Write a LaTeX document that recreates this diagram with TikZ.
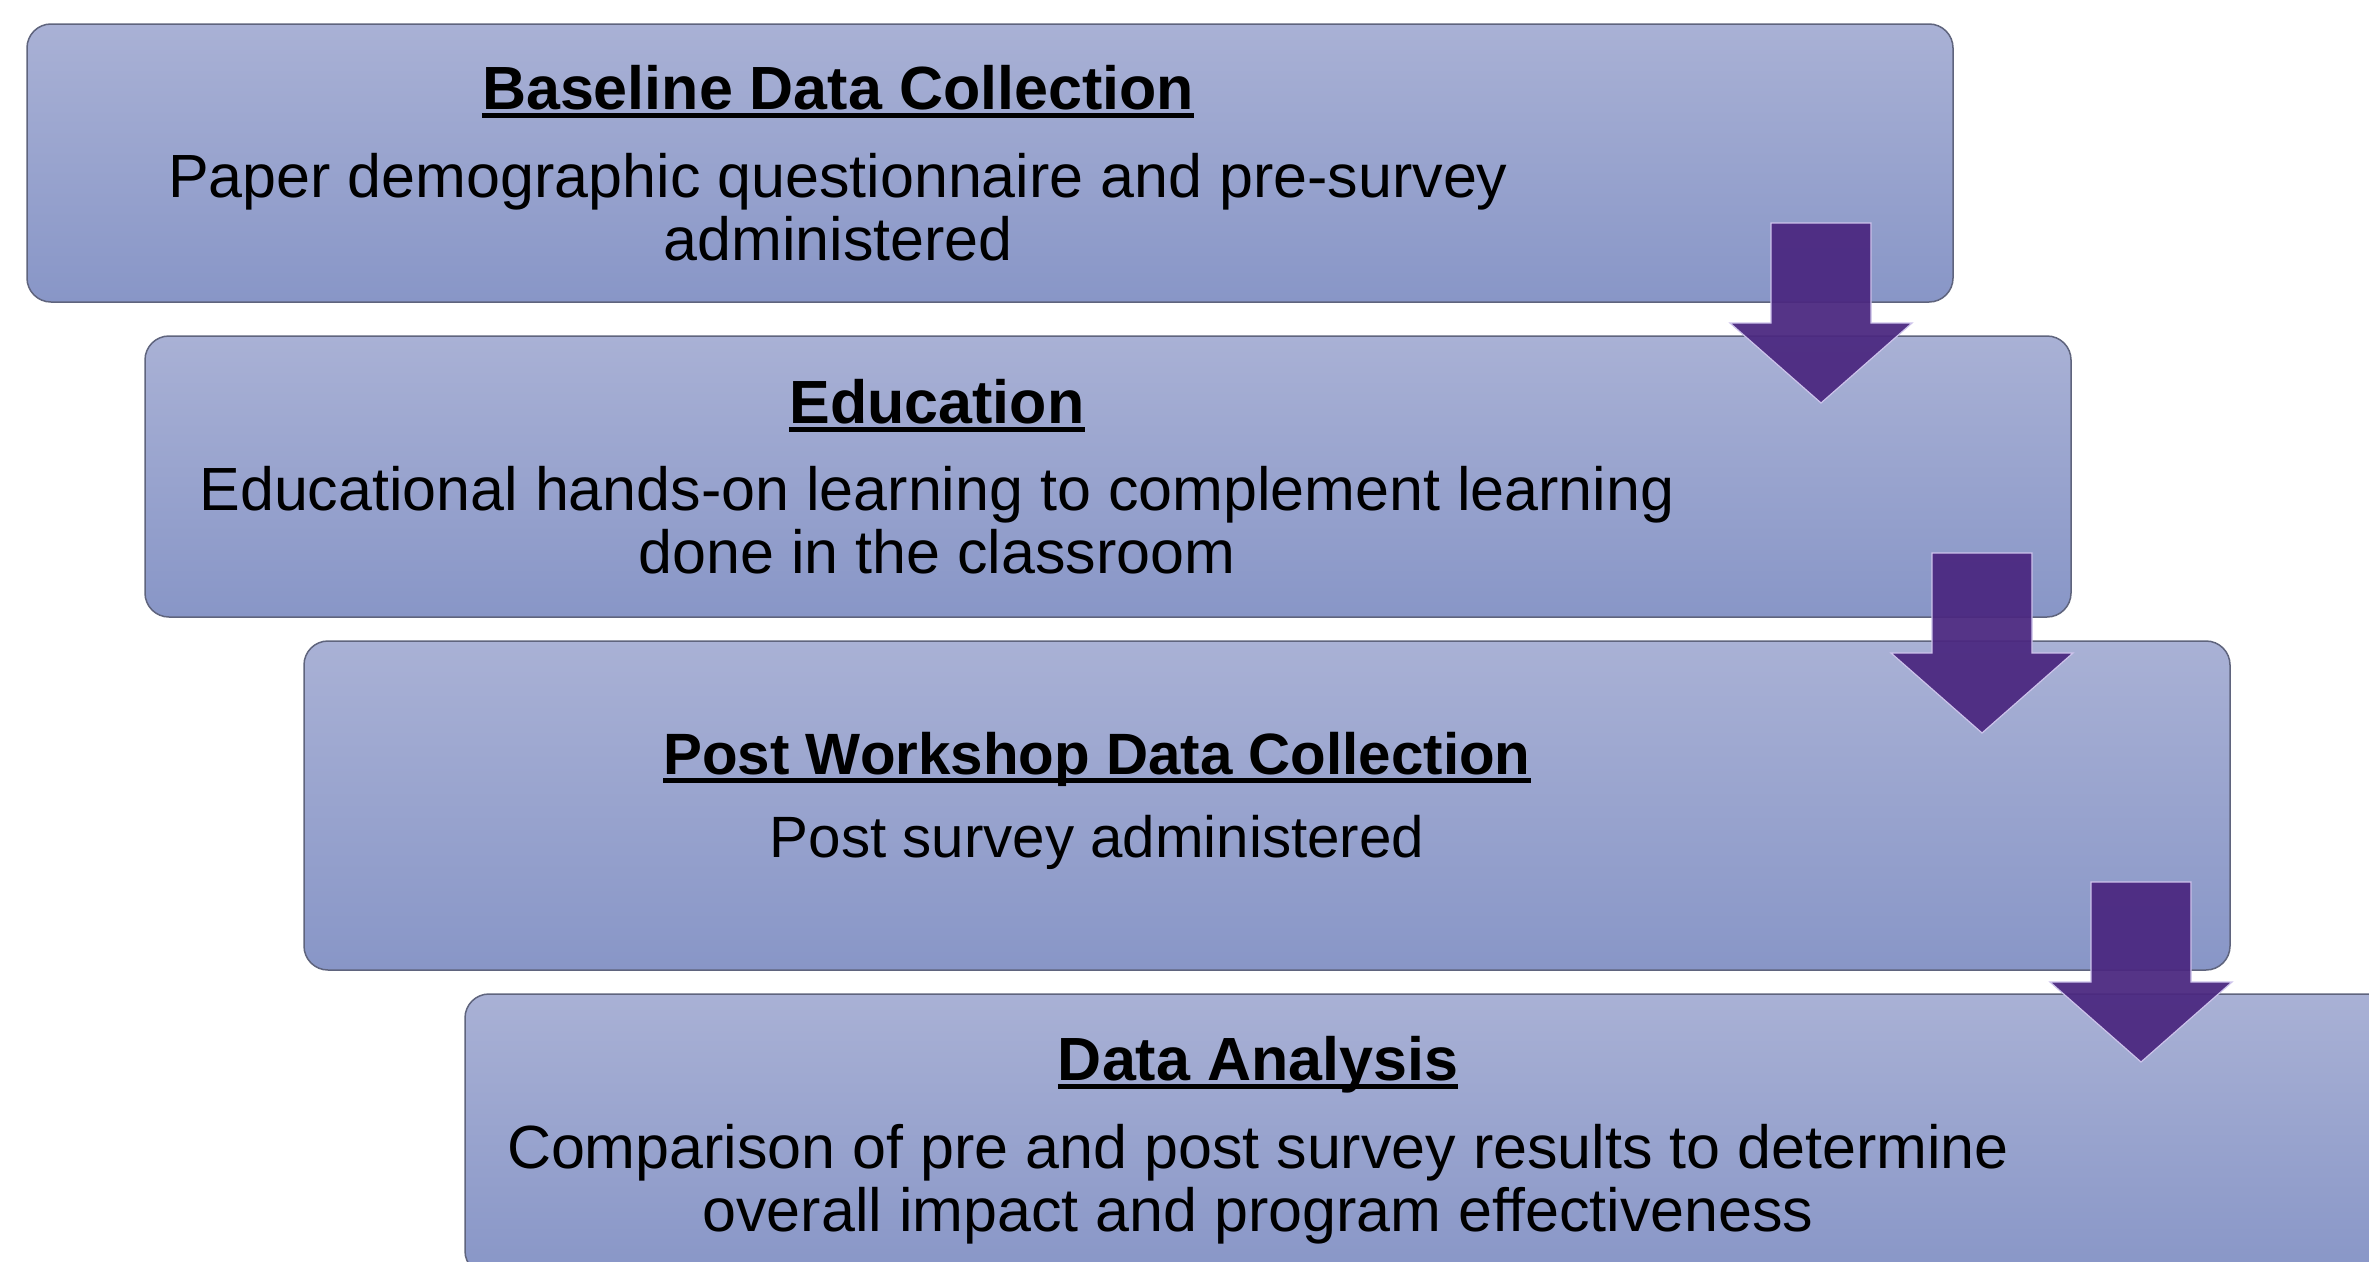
\documentclass[tikz,border=0pt]{standalone}
\usepackage{fontspec}
\setmainfont{Liberation Sans}
\usetikzlibrary{positioning, calc}

\definecolor{boxtop}{RGB}{169,177,213}
\definecolor{boxbot}{RGB}{136,150,199}
\definecolor{boxline}{RGB}{95,100,125}
\definecolor{arrowfill}{RGB}{75,40,128}
\definecolor{arrowedge}{RGB}{205,195,235}

\begin{document}
\begin{tikzpicture}[x=1pt, y=-1pt,
	box/.style={rectangle, rounded corners=24pt, draw=boxline, line width=1.5pt, top color=boxtop, bottom color=boxbot, minimum width=1926pt, inner sep=0pt},
	title/.style={inner sep=0pt, anchor=base, font=\bfseries\fontsize{61}{63}\selectfont},
	body/.style={inner sep=0pt, anchor=base, align=center, font=\fontsize{61}{63}\selectfont},
	blockarrow/.style={fill=arrowfill, fill opacity=0.94, draw=arrowedge, line width=1.2pt}]
			\useasboundingbox (0,0) rectangle (2369,1261);
			\fill[white] (0,0) rectangle (2369,1261);
			\clip (0,0) rectangle (2369,1261);
			% Boxes
			\node[box, minimum height=278pt] (b1) at (990,163) {};
			\node[box, minimum height=281pt] (b2) at (1108,476.5) {};
			\node[box, minimum height=329pt] (b3) at (1267,805.5) {};
			\node[box, minimum height=281pt] (b4) at (1428,1134.5) {};
			% Titles and texts (base = last line)
			\node[title] (t1) at (838,109) {Baseline Data Collection};
			\node[body] (d1) at (838,260) {Paper demographic questionnaire and pre-survey\\administered};
			\node[title] (t2) at (937,423) {Education};
			\node[body] (d2) at (937,573) {Educational hands-on learning to complement learning\\done in the classroom};
			\node[title, font=\bfseries\fontsize{58.3}{60}\selectfont] (t3) at (1097,774) {Post Workshop Data Collection};
			\node[body, font=\fontsize{58.3}{60}\selectfont] (d3) at (1097,857) {Post survey administered};
			\node[title] (t4) at (1258,1080) {Data Analysis};
			\node[body] (d4) at (1258,1231) {Comparison of pre and post survey results to determine\\overall impact and program effectiveness};
			% Underlines
			\foreach \t in {t1,t2,t3,t4}
			{\draw[line width=5pt] ([yshift=-6pt]\t.base west) -- ([yshift=-6pt]\t.base east);}
			% Arrows between steps
			\coordinate (a1) at (1821,223);
			\coordinate (a2) at (1982,553);
			\coordinate (a3) at (2141,882);
			\foreach \a in {a1,a2,a3}
			{\filldraw[blockarrow] ([xshift=-50pt]\a) -- ++(0,100) -- ++(-41,0) -- ++(91,80) -- ++(91,-80) -- ++(-41,0) -- ++(0,-100) -- cycle;}
		\end{tikzpicture}
\end{document}
